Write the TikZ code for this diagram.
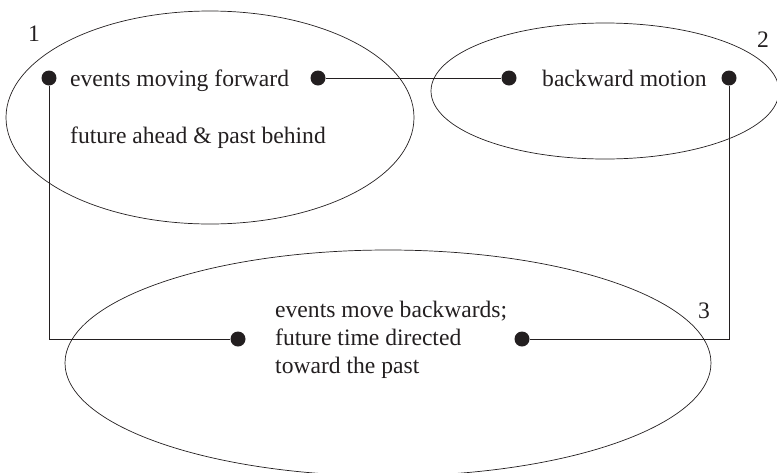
\documentclass[tikz,border=0pt]{standalone}
\usepackage{fontspec}
\setmainfont{Liberation Serif}
\usetikzlibrary{shapes.geometric}
\definecolor{ink}{RGB}{35,31,32}
\begin{document}
\begin{tikzpicture}[x=1pt,y=-1pt,
  region/.style={ellipse, draw=ink, line width=0.7pt, inner sep=0pt},
  dot/.style={circle, fill=ink, inner sep=0pt, minimum size=15pt},
  label/.style={anchor=base west, inner sep=0pt, text=ink,
    font=\fontsize{23.6}{28}\selectfont, align=left},
  link/.style={draw=ink, line width=0.9pt}]
\useasboundingbox (0,0) rectangle (777,472);

% the three regions
\node[region, minimum width=408pt, minimum height=213pt] (r1) at (210,117.5) {};
\node[region, minimum width=348pt, minimum height=136pt] (r2) at (605,91) {};
\node[region, minimum width=646pt, minimum height=226pt] (r3) at (388,363) {};

% region numbers
\node[label, anchor=center] (n1) at (34,34) {1};
\node[label, anchor=center] (n2) at (763,40) {2};
\node[label, anchor=center] (n3) at (704,311) {3};

% texts (a multi-line node sits on the baseline of its last line)
\node[label] (t1) at (70,86) {events moving forward};
\node[label] (t2) at (70,143) {future ahead \& past behind};
\node[label] (t3) at (542,86) {backward motion};
\node[label] (t4) at (275,373) {events move backwards;\\future time directed\\toward the past};

% dots
\node[dot] (d1) at (49,78) {};
\node[dot] (d2) at (318,78) {};
\node[dot] (d3) at (509,78) {};
\node[dot] (d4) at (729,78) {};
\node[dot] (d5) at (238,339) {};
\node[dot] (d6) at (522,339) {};

% connectors
\draw[link] (d2) -- (d3);
\draw[link] (d1) |- (d5);
\draw[link] (d4) |- (d6);
\end{tikzpicture}
\end{document}
